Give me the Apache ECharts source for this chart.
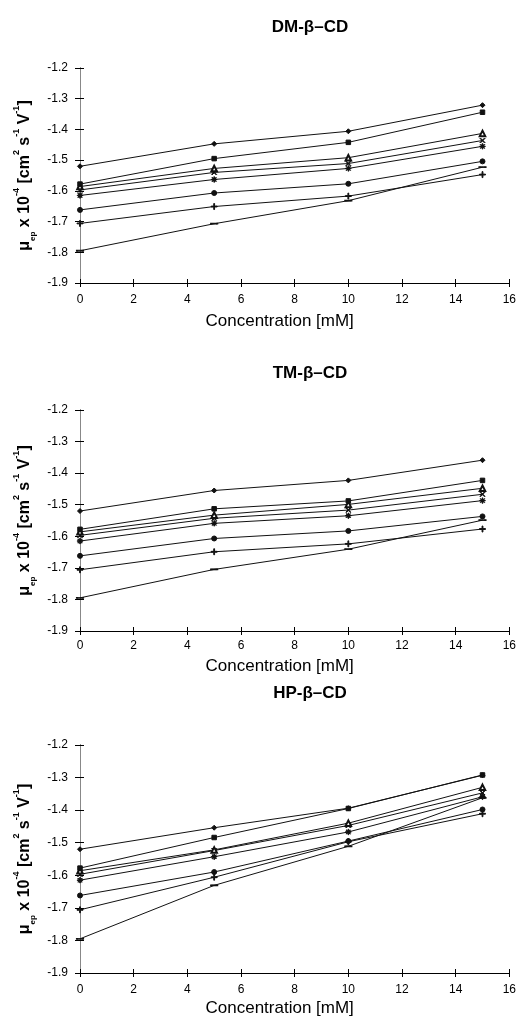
<!DOCTYPE html>
<html>
<head>
<meta charset="utf-8">
<script src="https://cdn.jsdelivr.net/npm/echarts@6/dist/echarts.min.js"></script>
<style>
  html, body { margin: 0; padding: 0; background: #fff; }
  #main { width: 519px; height: 1018px; }
</style>
</head>
<body>
<div id="main"></div>
<script>
// concentration values (mM) shared by every curve
var conc = [0, 5, 10, 15];

// one marker per curve, top curve first
var markers = [
  'diamond',
  'rect',
  'emptyTriangle',
  'path://M1,1.7L1.7,1L9,8.3L8.3,9z M9,1.7L8.3,1L1,8.3L1.7,9z',
  'path://M4.5,0h1v10h-1z M0,4.5h10v1h-10z M1,1.7L1.7,1L9,8.3L8.3,9z M9,1.7L8.3,1L1,8.3L1.7,9z',
  'circle',
  'path://M4.3,0h1.4v4.3h4.3v1.4h-4.3v4.3h-1.4v-4.3h-4.3v-1.4h4.3z',
  'path://M0,0h10v1h-10z'
];
var markerSizes = [5, 4.5, 5.5, 5, 5.5, 5, 6, [6, 1.3]];

var titles = ['DM-β–CD', 'TM-β–CD', 'HP-β–CD'];

var dmValues = [
  [-1.520, -1.447, -1.406, -1.321],
  [-1.578, -1.495, -1.442, -1.344],
  [-1.586, -1.527, -1.492, -1.413],
  [-1.597, -1.540, -1.511, -1.436],
  [-1.615, -1.563, -1.527, -1.455],
  [-1.662, -1.607, -1.577, -1.504],
  [-1.706, -1.651, -1.617, -1.547],
  [-1.795, -1.707, -1.632, -1.523]
];

var tmValues = [
  [-1.520, -1.455, -1.423, -1.359],
  [-1.578, -1.513, -1.488, -1.423],
  [-1.586, -1.533, -1.499, -1.448],
  [-1.597, -1.543, -1.517, -1.467],
  [-1.615, -1.559, -1.535, -1.487],
  [-1.662, -1.607, -1.583, -1.537],
  [-1.706, -1.649, -1.624, -1.577],
  [-1.795, -1.705, -1.641, -1.549]
];

var hpValues = [
  [-1.520, -1.454, -1.394, -1.293],
  [-1.578, -1.484, -1.395, -1.292],
  [-1.586, -1.522, -1.440, -1.330],
  [-1.597, -1.524, -1.447, -1.347],
  [-1.615, -1.543, -1.467, -1.359],
  [-1.662, -1.590, -1.495, -1.398],
  [-1.706, -1.606, -1.497, -1.411],
  [-1.795, -1.631, -1.511, -1.362]
];

var panels = [dmValues, tmValues, hpValues];

// layout of the three plot areas
var gridTops = [68, 410, 745];
var gridHeights = [215, 221, 229];
var titleTops = [14, 360, 680];
var xNameGaps = [30, 27, 27];
var xLabelMargins = [11, 9, 11];

var font = 'Liberation Sans, Arial, sans-serif';

var dom = document.getElementById('main');
var myChart = echarts.init(dom, null, { renderer: 'canvas' });

var option = {
  animation: false,
  backgroundColor: '#fff',
  title: [],
  grid: [],
  xAxis: [],
  yAxis: [],
  series: []
};

var yName = '{t|μ}{s|ep}{t| x 10}{p|-4}{t| [cm}{p|2}{t| s}{p|-1}{t| V}{p|-1}{t|]}';

panels.forEach(function (values, i) {
  option.title.push({
    text: titles[i],
    left: 305,
    top: titleTops[i],
    textAlign: 'center',
    textStyle: { fontFamily: font, fontSize: 17, fontWeight: 'bold', color: '#000' }
  });
  option.grid.push({
    left: 80,
    right: 8,
    top: gridTops[i],
    height: gridHeights[i]
  });
  option.xAxis.push({
    type: 'value',
    gridIndex: i,
    min: 0,
    max: 16,
    interval: 2,
    name: 'Concentration [mM]',
    nameLocation: 'middle',
    nameGap: xNameGaps[i],
    nameTextStyle: { fontFamily: font, fontSize: 17, color: '#000', padding: [0, 30, 0, 0] },
    axisLine: { lineStyle: { color: '#000', width: 1 } },
    axisTick: { length: 4, lineStyle: { color: '#000' } },
    axisLabel: { fontFamily: font, fontSize: 12, color: '#000', margin: xLabelMargins[i] },
    splitLine: { show: false }
  });
  // inner half of the crossing x ticks
  option.xAxis.push({
    type: 'value',
    gridIndex: i,
    position: 'bottom',
    min: 0,
    max: 16,
    interval: 2,
    axisLine: { show: false },
    axisTick: { show: true, inside: true, length: 4, lineStyle: { color: '#000' } },
    axisLabel: { show: false },
    splitLine: { show: false }
  });
  option.yAxis.push({
    type: 'value',
    gridIndex: i,
    min: -1.9,
    max: -1.2,
    interval: 0.1,
    name: yName,
    nameLocation: 'middle',
    nameGap: 40,
    nameTextStyle: {
      rich: {
        t: { fontFamily: font, fontSize: 16, fontWeight: 'bold', color: '#000' },
        s: { fontFamily: font, fontSize: 8, fontWeight: 'bold', color: '#000', verticalAlign: 'bottom', lineHeight: 14 },
        p: { fontFamily: font, fontSize: 9, fontWeight: 'bold', color: '#000', verticalAlign: 'top', lineHeight: 24 }
      }
    },
    axisLine: { show: true, lineStyle: { color: '#000', width: 1 } },
    axisTick: { show: true, length: 5, lineStyle: { color: '#000' } },
    axisLabel: {
      fontFamily: font, fontSize: 12, color: '#000', margin: 12,
      formatter: function (v) { return v.toFixed(1); }
    },
    splitLine: { show: false }
  });
  // right frame line
  option.yAxis.push({
    type: 'value',
    gridIndex: i,
    position: 'right',
    min: -1.9,
    max: -1.2,
    axisLine: { show: true, lineStyle: { color: '#888', width: 1 } },
    axisTick: { show: false },
    axisLabel: { show: false },
    splitLine: { show: false }
  });
  // inner half of the crossing y ticks
  option.yAxis.push({
    type: 'value',
    gridIndex: i,
    position: 'left',
    min: -1.9,
    max: -1.2,
    interval: 0.1,
    axisLine: { show: false },
    axisTick: { show: true, inside: true, length: 4, lineStyle: { color: '#000' } },
    axisLabel: { show: false },
    splitLine: { show: false }
  });

  values.forEach(function (vals, k) {
    option.series.push({
      type: 'line',
      xAxisIndex: i * 2,
      yAxisIndex: i * 3,
      data: conc.map(function (c, j) { return [c, vals[j]]; }),
      symbol: markers[k],
      symbolSize: markerSizes[k],
      symbolKeepAspect: false,
      showAllSymbol: true,
      lineStyle: { color: '#111', width: 1 },
      itemStyle: { color: '#111', borderColor: '#111', borderWidth: 1 },
      z: 10 - k
    });
  });
});

myChart.setOption(option);
window.addEventListener('resize', myChart.resize);
</script>
</body>
</html>
